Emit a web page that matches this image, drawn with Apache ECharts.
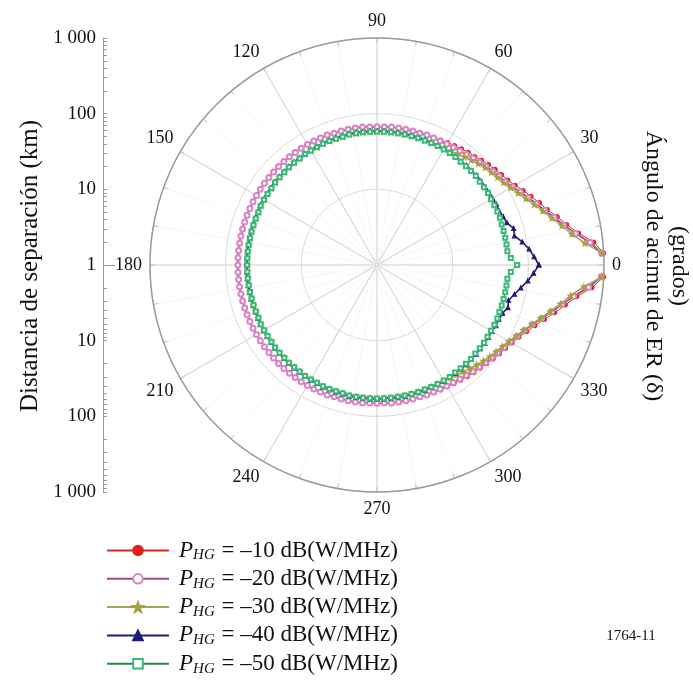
<!DOCTYPE html>
<html>
<head>
<meta charset="utf-8">
<script src="https://cdn.jsdelivr.net/npm/echarts@6/dist/echarts.min.js"></script>
<style>
html,body{margin:0;padding:0;background:#fff;}
#c{width:693px;height:690px;}
</style>
</head>
<body>
<div id="c"></div>
<script>
// Azimuth angles (degrees)
const ANGLES = [0,3,6,9,12,15,18,21,24,27,30,33,36,39,42,45,48,51,54,57,60,63,66,69,72,75,78,81,84,87,
90,93,96,99,102,105,108,111,114,117,120,123,126,129,132,135,138,141,144,147,150,153,156,159,162,165,168,171,174,177,
180,183,186,189,192,195,198,201,204,207,210,213,216,219,222,225,228,231,234,237,240,243,246,249,252,255,258,261,264,267,
270,273,276,279,282,285,288,291,294,297,300,303,306,309,312,315,318,321,324,327,330,333,336,339,342,345,348,351,354,357,360];

// Separation distance (km) per series
const P10 = [null,1000,760,497,366,292,232,199,169,147,128,115,108,102,96,90,85,82,79,76,74,71,70,69,68,68,68,68,68,67,
67,67,68,68,68,68,68,69,69,69,69,69,69,69,69,69,69,69,69,69,69,69,69,69,69,69,69,69,69,69,
69,69,69,69,69,69,69,69,69,69,69,69,69,69,69,69,69,69,69,69,69,69,69,69,68,68,68,68,68,67,
67,67,68,68,68,68,68,69,70,71,72,74,76,79,82,85,89,94,100,106,115,127,146,172,212,270,350,470,720,1000,null];

const P20 = [null,940,680,455,335,267,214,182,154,134,117,105,99,93,88,83,79,76,73,71,70,69,69,69,68,68,68,68,68,67,
67,67,68,68,68,68,68,69,69,69,69,69,69,69,69,69,69,69,69,69,69,69,69,69,69,69,69,69,69,69,
69,69,69,69,69,69,69,69,69,69,69,69,69,69,69,69,69,69,69,69,69,69,69,69,68,68,68,68,68,67,
67,67,68,68,68,68,68,69,69,69,70,71,73,75,78,81,85,89,94,100,108,119,135,158,194,245,318,430,650,930,null];

const P30 = [null,955,577,405,314,247,202,169,143,124,110,99,93,88,84,78,73,69,65,62,60,59,58,58,58,58,58,58,58,58,
58,58,58,58,58,57,57,57,57,56,56,56,55,55,55,54,54,54,53,53,53,53,52,52,52,52,52,52,52,52,
52,52,52,52,52,52,52,52,52,53,53,53,53,54,54,54,55,55,55,56,56,56,57,57,57,57,58,58,58,58,
58,58,58,58,58,58,58,58,58,58,59,60,62,65,69,73,78,83,88,94,103,116,132,155,188,235,300,390,560,950,null];

const P40 = [138,120,105,88,72,74,64,61,58,59,58,58,58,58,59,58,59,58,59,59,59,59,59,59,59,59,59,59,59,59,
59,59,59,59,59,58,58,58,58,57,57,57,56,56,56,55,55,55,54,54,54,54,53,53,53,53,53,53,53,53,
53,53,53,53,53,53,53,53,53,54,54,54,54,55,55,55,56,56,56,57,57,57,58,58,58,58,59,59,59,59,
59,59,59,59,59,59,59,59,59,59,59,58,59,58,59,58,58,57,58,57,57,58,58,60,66,63,72,84,101,118,138];

const P50 = [71,59,54,54,54,54,54,55,55,55,55,56,56,56,57,57,57,57,58,58,58,58,58,58,58,58,58,58,58,58,
58,58,58,58,58,57,57,57,57,56,56,56,55,55,55,54,54,54,53,53,53,53,52,52,52,52,52,52,52,52,
52,52,52,52,52,52,52,52,52,53,53,53,53,54,54,54,55,55,55,56,56,56,57,57,57,57,58,58,58,58,
58,58,58,58,58,58,58,58,58,58,58,58,57,57,57,57,56,56,56,55,55,55,55,54,54,54,54,54,54,59,71];

const SERIES_NAMES = ['–10 dB(W/MHz)','–20 dB(W/MHz)','–30 dB(W/MHz)','–40 dB(W/MHz)','–50 dB(W/MHz)'];
const LEFT_TICKS = [1,2,3,4,5,6,7,8,9,10,20,30,40,50,60,70,80,90,100,200,300,400,500,600,700,800,900,1000];
const LEFT_LABELS_TOP = [1,10,100,1000];
const LEFT_LABELS_BOTTOM = [10,100,1000];

function toPairs(vals){
  return vals.map((v,i)=> v==null ? ['-', ANGLES[i]] : [v, ANGLES[i]]);
}

const SERIF = 'Liberation Serif';
const chart = echarts.init(document.getElementById('c'), null, {renderer:'canvas'});

const styles = [
  {line:'#d42a24', item:'#e0201c', symbol:'circle', size:4, lw:1},
  {line:'#a3468a', item:'#d883c6', symbol:'emptyCircle', size:5, lw:1.8},
  {line:'#9aa855', item:'#a6a040', symbol:'path://M0,-10L2.4,-3.2L9.5,-3.1L3.8,1.2L5.9,8.1L0,4L-5.9,8.1L-3.8,1.2L-9.5,-3.1L-2.4,-3.2Z', size:5, lw:1.5},
  {line:'#1f1c78', item:'#1f1c78', symbol:'triangle', size:4, lw:1.6},
  {line:'#1e8a4e', item:'#3cb878', symbol:'emptyRect', size:4, lw:1}
];
const DATA = [P10,P20,P30,P40,P50];

const series = DATA.map((vals,k)=>({
  name: SERIES_NAMES[k],
  type:'line',
  coordinateSystem:'polar',
  data: toPairs(vals),
  symbol: styles[k].symbol,
  symbolSize: styles[k].size,
  showAllSymbol: true,
  connectNulls:false,
  lineStyle:{color:styles[k].line, width:styles[k].lw},
  itemStyle:{color:styles[k].item, borderColor:styles[k].item, borderWidth:1.2},
  emphasis:{disabled:true},
  z: 3+k
}));

const leftAxisBase = {
  type:'log', logBase:10, min:1, max:1000, position:'left',
  axisLine:{show:true, lineStyle:{color:'#9a9a9a', width:1}},
  splitLine:{show:false},
  minorTick:{show:false}
};

const option = {
  animation:false,
  backgroundColor:'#ffffff',
  polar:{center:[377,265], radius:227},
  angleAxis:{
    type:'value', min:0, max:360, interval:30, startAngle:0, clockwise:false,
    axisLine:{lineStyle:{color:'#9a9a9a', width:1.5}},
    axisTick:{show:true, inside:true, length:5, lineStyle:{color:'#aaaaaa'}},
    minorTick:{show:true, splitNumber:3, length:5, lineStyle:{color:'#aaaaaa'}},
    splitLine:{show:true, lineStyle:{color:'#cccccc', width:1}},
    minorSplitLine:{show:true, lineStyle:{color:'#eeeeee', type:'dotted', width:1}},
    axisLabel:{margin:8, fontFamily:SERIF, fontSize:18, color:'#111',
      formatter:(v)=> v===360 ? '' : String(v)}
  },
  radiusAxis:{
    type:'log', logBase:10, min:1, max:1000,
    axisLine:{show:false}, axisTick:{show:false}, axisLabel:{show:false},
    splitLine:{show:true, lineStyle:{color:'#b0b0b0', type:'dotted', width:1}}
  },
  grid:[
    {left:103, top:38, width:1, height:227},
    {left:103, top:265, width:1, height:227}
  ],
  xAxis:[
    {gridIndex:0, type:'value', show:false, min:0, max:1},
    {gridIndex:1, type:'value', show:false, min:0, max:1}
  ],
  yAxis:[
    Object.assign({}, leftAxisBase, {gridIndex:0,
      axisTick:{show:true, inside:true, length:4, customValues:LEFT_TICKS, lineStyle:{color:'#9a9a9a'}},
      axisLabel:{show:true, customValues:LEFT_LABELS_TOP, margin:7, fontFamily:SERIF, fontSize:19, color:'#111',
        formatter:(v)=> v>=1000 ? '1 000' : String(v)}}),
    Object.assign({}, leftAxisBase, {gridIndex:1, inverse:true,
      axisTick:{show:true, inside:true, length:4, customValues:LEFT_TICKS, lineStyle:{color:'#9a9a9a'}},
      axisLabel:{show:true, customValues:LEFT_LABELS_BOTTOM, margin:7, fontFamily:SERIF, fontSize:19, color:'#111',
        formatter:(v)=> v>=1000 ? '1 000' : String(v)}}),
    Object.assign({}, leftAxisBase, {gridIndex:0, axisLine:{show:false},
      axisTick:{show:true, inside:true, length:12, customValues:[1], lineStyle:{color:'#9a9a9a'}},
      axisLabel:{show:false}})
  ],
  legend:{
    orient:'vertical', left:101, top:533, itemWidth:62, itemHeight:12, itemGap:3.3,
    selectedMode:false,
    data:SERIES_NAMES,
    formatter:(n)=> '{p|P}{s|HG}{t| = ' + n + '}',
    textStyle:{
      fontFamily:SERIF, fontSize:23, color:'#111',
      rich:{
        p:{fontFamily:SERIF, fontSize:23, fontStyle:'italic', color:'#111', lineHeight:24, padding:[0,0,0,5]},
        s:{fontFamily:SERIF, fontSize:15, fontStyle:'italic', color:'#111', lineHeight:24, padding:[10,1,0,0]},
        t:{fontFamily:SERIF, fontSize:23, color:'#111', lineHeight:24}
      }
    }
  },
  graphic:[
    {type:'text', x:30, y:266, rotation:Math.PI/2,
      style:{text:'Distancia de separación (km)', fontFamily:SERIF, fontSize:25, fill:'#111', align:'center', verticalAlign:'middle'}},
    {type:'text', x:653, y:266, rotation:-Math.PI/2,
      style:{text:'Ángulo de acimut de ER (δ)', fontFamily:SERIF, fontSize:24, fill:'#111', align:'center', verticalAlign:'middle'}},
    {type:'text', x:679, y:266, rotation:-Math.PI/2,
      style:{text:'(grados)', fontFamily:SERIF, fontSize:24, fill:'#111', align:'center', verticalAlign:'middle'}},
    {type:'text', x:631, y:636,
      style:{text:'1764-11', fontFamily:SERIF, fontSize:15, fill:'#111', align:'center', verticalAlign:'middle'}}
  ],
  series: series
};
chart.setOption(option);
</script>
</body>
</html>
